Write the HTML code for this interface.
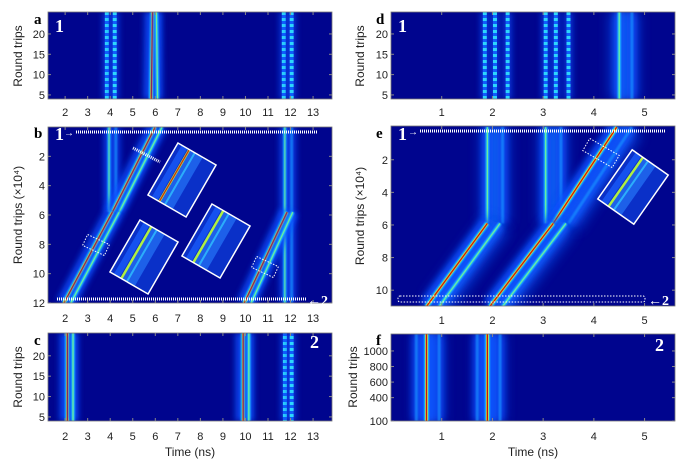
<!DOCTYPE html>
<html><head><meta charset="utf-8"><style>
body{margin:0;background:#fff;}
svg{display:block;font-family:"Liberation Sans",sans-serif;}
</style></head><body>
<svg id="fig" width="685" height="464" viewBox="0 0 685 464">
<defs>
<filter id="blur3" filterUnits="userSpaceOnUse" x="0" y="0" width="685" height="464"><feGaussianBlur stdDeviation="3"/></filter>
<filter id="blur6" filterUnits="userSpaceOnUse" x="0" y="0" width="685" height="464"><feGaussianBlur stdDeviation="6"/></filter>
<filter id="blur1" filterUnits="userSpaceOnUse" x="0" y="0" width="685" height="464"><feGaussianBlur stdDeviation="0.8"/></filter>
<pattern id="chk" width="4" height="6" patternUnits="userSpaceOnUse"><rect width="4" height="6" fill="#1060ff"/><rect width="4" height="3" fill="#30e0ff"/></pattern>
</defs>
</svg>
<script>
const NS='http://www.w3.org/2000/svg';
const svg=document.getElementById('fig');
function mk(tag,attrs,parent){const e=document.createElementNS(NS,tag);for(const k in attrs)e.setAttribute(k,attrs[k]);(parent||svg).appendChild(e);return e;}

const panels={
 a:{x0:48,x1:332,y0:12,y1:99,t:[1.24,13.84],r:[25.4,4]},
 b:{x0:48,x1:332,y0:127,y1:303,t:[1.24,13.84],r:[0,12]},
 c:{x0:48,x1:332,y0:333,y1:421,t:[1.24,13.84],r:[25.6,4]},
 d:{x0:391,x1:675,y0:12,y1:99,t:[0,5.6],r:[25.4,4]},
 e:{x0:391,x1:675,y0:126,y1:306,t:[0,5.6],r:[-0.07,10.97]},
 f:{x0:391,x1:675,y0:334,y1:421,t:[0,5.6],r:[1218,100]}
};
const leftTimeTicks=[2,3,4,5,6,7,8,9,10,11,12,13];
const rightTimeTicks=[1,2,3,4,5];
const rtTicksSmall=[5,10,15,20];
const bTicks=[2,4,6,8,10,12];
const eTicks=[2,4,6,8,10];
const fTicks=[100,400,600,800,1000];
const tracesA=[[3.85,4,3.85,25.4,'dash'],[4.2,4,4.2,25.4,'dash'],[5.82,4,5.88,25.4,'main'],[6.1,4,6.05,25.4,'sec'],[11.7,4,11.7,25.4,'dash'],[12.05,4,12.05,25.4,'dash']];
const tracesB=[[3.95,0,3.95,5.8,'sec'],[4.25,0,4.25,5.8,'faint'],[6.0,0,4.1,5.8,'main'],[6.3,0,4.4,5.8,'sec'],[4.1,5.8,1.95,12,'main'],[4.4,5.8,2.25,12,'sec'],[11.75,0,11.75,12,'sec'],[12.05,0,12.05,12,'faint'],[11.85,5.8,9.95,12,'main'],[12.1,5.8,10.25,12,'sec']];
const tracesC=[[2.1,4,2.1,25.6,'main'],[2.35,4,2.35,25.6,'sec'],[9.9,4,9.9,25.6,'main'],[10.15,4,10.15,25.6,'sec'],[11.75,4,11.75,25.6,'dash'],[12.05,4,12.05,25.6,'dash']];
const tracesD=[[1.85,4,1.85,25.4,'dash'],[2.05,4,2.05,25.4,'dash'],[2.3,4,2.3,25.4,'dash'],[3.05,4,3.05,25.4,'dash'],[3.25,4,3.25,25.4,'dash'],[3.5,4,3.5,25.4,'dash'],[4.6,4,4.6,25.4,'wide'],[4.5,4,4.5,25.4,'sec'],[4.75,4,4.75,25.4,'faint']];
const tracesE=[[2.05,0,2.05,5.9,'wide'],[3.2,0,3.2,5.9,'wide'],[1.9,0,1.9,5.9,'sec'],[2.2,0,2.2,5.9,'faint'],[3.05,0,3.05,5.9,'sec'],[3.35,0,3.35,5.9,'faint'],[3.45,5.9,4.7,0,'wide'],[3.2,5.9,4.45,0,'main'],[3.5,5.9,4.75,0,'faint'],[2.1,5.9,0.9,11,'wide'],[3.4,5.9,2.15,11,'wide'],[1.9,5.9,0.7,11,'main'],[2.15,5.9,0.95,11,'sec'],[3.2,5.9,1.95,11,'main'],[3.45,5.9,2.2,11,'sec']];
const tracesF=[[0.75,100,0.75,1218,'wide'],[1.95,100,1.95,1218,'wide'],[0.7,100,0.7,1218,'main'],[0.95,100,0.95,1218,'faint'],[0.5,100,0.5,1218,'faint'],[1.9,100,1.9,1218,'main'],[2.15,100,2.15,1218,'faint'],[1.7,100,1.7,1218,'faint']];

function sx(p,t){return p.x0+(t-p.t[0])/(p.t[1]-p.t[0])*(p.x1-p.x0);}
function sy(p,r){return p.y0+(r-p.r[0])/(p.r[1]-p.r[0])*(p.y1-p.y0);}

function drawPanel(id,traces){
 const p=panels[id];
 const g=mk('g',{'clip-path':'url(#clip'+id+')'});
 
 
 const cp=mk('clipPath',{id:'clip'+id},svg.querySelector('defs'));
 mk('rect',{x:p.x0,y:p.y0,width:p.x1-p.x0,height:p.y1-p.y0},cp);
 mk('rect',{x:p.x0,y:p.y0,width:p.x1-p.x0,height:p.y1-p.y0,fill:'#00058e'},g);
 traces.forEach(tr=>{
  const [t0,r0,t1,r1,k]=tr;
  const c={x1:sx(p,t0),y1:sy(p,r0),x2:sx(p,t1),y2:sy(p,r1)};
  const L=(w,col,op,f)=>{const e=mk('line',Object.assign({},c,{stroke:col,'stroke-width':w,opacity:op}),g);if(f)e.setAttribute('filter',f);return e;};
  if(k==='main'){L(16,'#0a50ff',0.8,'url(#blur3)');L(5,'#20d0ff',0.9,'url(#blur1)');L(2.6,'#e0f020',1);L(1.3,'#d01010',1);}
  else if(k==='sec'){L(11,'#0a50ff',0.7,'url(#blur3)');L(3.5,'#20c8ff',0.9,'url(#blur1)');L(1.2,'#80ff80',0.8);}
  else if(k==='faint'){L(10,'#0a48ff',0.6,'url(#blur3)');L(3,'#1890ff',0.7,'url(#blur1)');}
  else if(k==='wide'){L(28,'#0850f0',0.75,'url(#blur6)');L(14,'#1a80ff',0.45,'url(#blur3)');}
  else if(k==='dash'){L(9,'#0a50ff',0.6,'url(#blur3)');L(4,'url(#chk)',0.95);}
 });
 const fr=mk('rect',{x:p.x0,y:p.y0,width:p.x1-p.x0,height:p.y1-p.y0,fill:'none',stroke:'#777','stroke-width':0.8});
 
 
}
function xTicks(id,ticks,ly){
 const p=panels[id];
 ticks.forEach(t=>{const x=sx(p,t);
  mk('line',{x1:x,y1:p.y1,x2:x,y2:p.y1-3,stroke:'#888'});mk('line',{x1:x,y1:p.y0,x2:x,y2:p.y0+3,stroke:'#888'});
  const e=mk('text',{x:x,y:ly,'font-size':11,'text-anchor':'middle',fill:'#222'});e.textContent=t;
  
  });
}
function yTicks(id,ticks){
 const p=panels[id];
 ticks.forEach(r=>{const y=sy(p,r);
  mk('line',{x1:p.x0,y1:y,x2:p.x0+3,y2:y,stroke:'#888'});mk('line',{x1:p.x1,y1:y,x2:p.x1-3,y2:y,stroke:'#888'});
  const e=mk('text',{x:p.x0-3,y:y+4,'font-size':11,'text-anchor':'end',fill:'#222'});e.textContent=r;
  
  });
}
function txt(s,x,y,attrs,name){const e=mk('text',Object.assign({x:x,y:y},attrs));e.textContent=s;return e;}

drawPanel('a',tracesA);drawPanel('b',tracesB);drawPanel('c',tracesC);
drawPanel('d',tracesD);drawPanel('e',tracesE);drawPanel('f',tracesF);
xTicks('a',leftTimeTicks,116);xTicks('b',leftTimeTicks,322);xTicks('c',leftTimeTicks,440);
xTicks('d',rightTimeTicks,116);xTicks('e',rightTimeTicks,324);xTicks('f',rightTimeTicks,440);
yTicks('a',rtTicksSmall);yTicks('b',bTicks);yTicks('c',rtTicksSmall);
yTicks('d',rtTicksSmall);yTicks('e',eTicks);yTicks('f',fTicks);

function inset(cx,cy,w,h,ang,name,red){
 const g=mk('g',{transform:`translate(${cx},${cy}) rotate(${ang})`});
 
 
 mk('rect',{x:-w/2,y:-h/2,width:w,height:h,fill:'#0a30c8'},g);
 mk('rect',{x:-w/2+w*0.3,y:-h/2,width:w*0.35,height:h,fill:'#2a80ff',opacity:0.6},g);
 mk('rect',{x:-w/2+w*0.1,y:-h/2,width:w*0.15,height:h,fill:'#1a60ff',opacity:0.7},g);
 mk('rect',{x:-w/2+w*0.27,y:-h/2,width:2.5,height:h,fill:'#b0f040'},g);
 if(red)mk('rect',{x:-w/2+w*0.27+0.6,y:-h/2,width:1.2,height:h,fill:'#d02010'},g);
 mk('rect',{x:-w/2+w*0.42,y:-h/2,width:2,height:h,fill:'#30c0ff',opacity:0.8},g);
 mk('rect',{x:-w/2,y:-h/2,width:w,height:h,fill:'none',stroke:'#fff','stroke-width':1.5},g);
}
inset(182,180,44,60,30,'inset-b-top',true);
inset(144,257,44,60,30,'inset-b-left',false);
inset(216,241,44,60,30,'inset-b-right',false);
inset(633,187,44,60,35,'inset-e',false);

function dotted(x1,y1,x2,y2,name){const e=mk('line',{x1,y1,x2,y2,stroke:'#fff','stroke-width':3,'stroke-dasharray':'1 1'});}
dotted(76,132,318,132,'marker-line-1-b');dotted(57,299,306,299,'marker-line-2-b');
dotted(420,131,665,131,'marker-line-1-e');
dotted(133,148,160,162,'zoom-arrow-b-top');
const rb=mk('rect',{x:398,y:296,width:247,height:6,fill:'none',stroke:'#fff','stroke-width':1,'stroke-dasharray':'1.5 1.5',rx:2});


[[96,245,24,12,25],[265,267,24,12,25],[601,153,34,14,30]].forEach(b=>{
 const r=mk('rect',{x:-b[2]/2,y:-b[3]/2,width:b[2],height:b[3],transform:`translate(${b[0]},${b[1]}) rotate(${b[4]})`,fill:'none',stroke:'#fff','stroke-width':1,'stroke-dasharray':'1.5 1.5'});
 
 
});
const ws={fill:'#fff','font-family':'Liberation Serif, serif','font-weight':'bold','font-size':18};
txt('1',55,32,ws,'label-1-a');txt('1',55,140,ws,'label-1-b');txt('2',310,348,ws,'label-2-c');
txt('1',398,32,ws,'label-1-d');txt('1',398,140,ws,'label-1-e');txt('2',655,351,ws,'label-2-f');
txt('←2',307,305,{fill:'#fff','font-family':'Liberation Serif, serif','font-weight':'bold','font-size':14},'arrow-2-b');
txt('←2',648,305,{fill:'#fff','font-family':'Liberation Serif, serif','font-weight':'bold','font-size':14},'arrow-2-e');
txt('→',64,136,{fill:'#fff','font-size':10},'arrow-1-b');txt('→',408,135,{fill:'#fff','font-size':10},'arrow-1-e');

const pl={fill:'#000','font-family':'Liberation Serif, serif','font-weight':'bold','font-size':15};
txt('a',34,24,pl,'panel-letter-a');txt('b',34,138,pl,'panel-letter-b');txt('c',34,345,pl,'panel-letter-c');
txt('d',376,24,pl,'panel-letter-d');txt('e',376,138,pl,'panel-letter-e');txt('f',376,345,pl,'panel-letter-f');

const al={'font-size':12,'text-anchor':'middle',fill:'#222'};
txt('Round trips',0,0,Object.assign({transform:'translate(22,56) rotate(-90)'},al),'y-axis-title-a');
txt('Round trips (×10⁴)',0,0,Object.assign({transform:'translate(22,215) rotate(-90)'},al),'y-axis-title-b');
txt('Round trips',0,0,Object.assign({transform:'translate(22,377) rotate(-90)'},al),'y-axis-title-c');
txt('Round trips',0,0,Object.assign({transform:'translate(364,56) rotate(-90)'},al),'y-axis-title-d');
txt('Round trips (×10⁴)',0,0,Object.assign({transform:'translate(364,216) rotate(-90)'},al),'y-axis-title-e');
txt('Round trips',0,0,Object.assign({transform:'translate(357,377) rotate(-90)'},al),'y-axis-title-f');
txt('Time (ns)',190,456,al,'x-axis-title-c');txt('Time (ns)',533,456,al,'x-axis-title-f');
</script>
</body></html>
